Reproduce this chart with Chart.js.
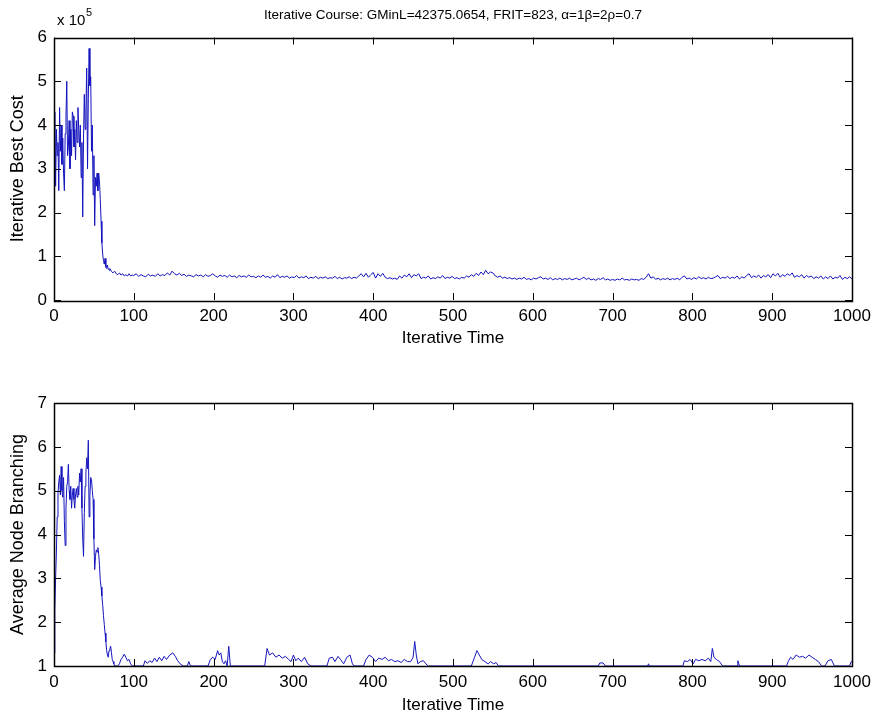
<!DOCTYPE html>
<html>
<head>
<meta charset="utf-8">
<script src="https://cdn.jsdelivr.net/npm/chart.js@4.4.0/dist/chart.umd.min.js"></script>
<style>
html, body { margin: 0; padding: 0; background: #fff; }
#wrap { position: relative; width: 877px; height: 720px; }
canvas { position: absolute; left: 0; }
#chart-cost { top: 0; }
#chart-branch { top: 360px; }
</style>
</head>
<body>
<div id="wrap">
    <canvas id="chart-cost" width="877" height="360"></canvas>
    <canvas id="chart-branch" width="877" height="360"></canvas>
</div>
<script>
// iteration index and best cost (in units of 10^5)
var costIter = [
    0,1,2,3,4,5,6,7,8,9,
    10,11,12,13,14,15,16,17,18,19,
    20,21,22,23,24,25,26,27,28,29,
    30,31,32,33,34,35,36,37,38,39,
    40,41,42,43,44,45,46,47,48,49,
    50,51,52,53,54,55,56,57,58,59,
    60,61,62,63,64,65,66,67,68,69,
    70,72,74,76,78,80,82,84,86,88,
    90,92,94,96,98,
    100,103,106,109,112,115,118,121,124,127,
    130,133,136,139,142,145,148,151,154,157,
    160,163,166,169,172,175,178,181,184,187,
    190,193,196,199,202,205,208,211,214,217,
    220,223,226,229,232,235,238,241,244,247,
    250,253,256,259,262,265,268,271,274,277,
    280,283,286,289,292,295,298,301,304,307,
    310,313,316,319,322,325,328,331,334,337,
    340,343,346,349,352,355,358,361,364,367,
    370,373,376,379,382,385,388,391,394,397,
    400,403,406,409,412,415,418,421,424,427,
    430,433,436,439,442,445,448,451,454,457,
    460,463,466,469,472,475,478,481,484,487,
    490,493,496,499,502,505,508,511,514,517,
    520,523,526,529,532,535,538,541,544,547,
    550,553,556,559,562,565,568,571,574,577,
    580,583,586,589,592,595,598,601,604,607,
    610,613,616,619,622,625,628,631,634,637,
    640,643,646,649,652,655,658,661,664,667,
    670,673,676,679,682,685,688,691,694,697,
    700,703,706,709,712,715,718,721,724,727,
    730,733,736,739,742,745,748,751,754,757,
    760,763,766,769,772,775,778,781,784,787,
    790,793,796,799,802,805,808,811,814,817,
    820,823,826,829,832,835,838,841,844,847,
    850,853,856,859,862,865,868,871,874,877,
    880,883,886,889,892,895,898,901,904,907,
    910,913,916,919,922,925,928,931,934,937,
    940,943,946,949,952,955,958,961,964,967,
    970,973,976,979,982,985,988,991,994,997,
    1000
];
var costValue = [
    3.2,4.3,2.6,3.9,3.3,3.6,2.5,4.4,3.4,4.0,
    3.1,3.7,2.9,2.5,3.8,4.2,5.0,3.3,3.5,4.1,
    3.0,3.9,3.3,4.3,4.2,3.5,3.9,3.2,4.1,3.6,
    4.4,3.9,3.5,4.0,2.8,3.6,1.9,3.7,4.7,3.9,
    4.3,5.3,3.0,4.6,5.75,4.9,5.1,3.4,4.0,2.4,
    3.3,1.7,2.8,2.6,2.9,2.5,2.9,2.7,2.3,1.8,
    1.3,1.05,0.9,0.82,0.95,0.75,0.72,0.8,0.7,0.68,
    0.72,0.65,0.62,0.66,0.6,0.58,0.62,0.57,0.6,0.55,
    0.58,0.55,0.6,0.55,0.57,
    0.56,0.6,0.54,0.58,0.55,0.53,0.59,0.55,0.57,0.54,
    0.6,0.55,0.58,0.56,0.62,0.57,0.66,0.6,0.57,0.61,
    0.56,0.59,0.54,0.57,0.55,0.53,0.58,0.55,0.57,0.53,
    0.58,0.54,0.56,0.6,0.55,0.52,0.57,0.54,0.56,0.52,
    0.57,0.53,0.55,0.51,0.56,0.53,0.55,0.52,0.57,0.53,
    0.54,0.51,0.55,0.52,0.57,0.52,0.54,0.5,0.55,0.52,
    0.58,0.51,0.54,0.52,0.55,0.5,0.53,0.51,0.56,0.5,
    0.53,0.51,0.55,0.49,0.52,0.5,0.54,0.49,0.52,0.5,
    0.53,0.49,0.51,0.5,0.54,0.49,0.52,0.48,0.51,0.5,
    0.53,0.49,0.52,0.5,0.55,0.6,0.53,0.61,0.52,0.58,
    0.63,0.5,0.6,0.54,0.61,0.52,0.49,0.51,0.48,0.5,
    0.47,0.55,0.5,0.57,0.53,0.6,0.51,0.58,0.55,0.6,
    0.49,0.52,0.5,0.55,0.48,0.51,0.49,0.53,0.5,0.56,
    0.49,0.52,0.5,0.54,0.49,0.51,0.48,0.52,0.5,0.55,
    0.52,0.58,0.54,0.61,0.56,0.64,0.58,0.68,0.6,0.64,
    0.62,0.55,0.52,0.55,0.5,0.52,0.49,0.51,0.48,0.5,
    0.47,0.5,0.48,0.52,0.47,0.49,0.46,0.5,0.48,0.51,
    0.53,0.48,0.5,0.47,0.51,0.46,0.49,0.47,0.5,0.46,
    0.49,0.47,0.5,0.46,0.48,0.5,0.46,0.49,0.52,0.47,
    0.5,0.46,0.48,0.45,0.49,0.47,0.51,0.46,0.48,0.45,
    0.47,0.45,0.48,0.46,0.5,0.46,0.47,0.45,0.48,0.46,
    0.47,0.45,0.49,0.47,0.52,0.6,0.5,0.53,0.47,0.5,
    0.46,0.49,0.47,0.5,0.46,0.49,0.47,0.5,0.46,0.52,
    0.55,0.48,0.5,0.47,0.51,0.48,0.53,0.49,0.51,0.48,
    0.52,0.49,0.5,0.53,0.56,0.49,0.52,0.5,0.54,0.49,
    0.52,0.5,0.55,0.48,0.53,0.5,0.56,0.6,0.51,0.55,
    0.52,0.57,0.5,0.56,0.53,0.58,0.51,0.6,0.55,0.61,
    0.52,0.58,0.54,0.6,0.56,0.62,0.52,0.56,0.53,0.58,
    0.5,0.56,0.52,0.55,0.49,0.53,0.5,0.55,0.48,0.53,
    0.49,0.55,0.48,0.52,0.5,0.56,0.47,0.52,0.49,0.53,
    0.48
];

// iteration index and average node branching
var branchIter = [
    0,1,2,3,4,5,6,7,8,9,
    10,11,12,13,14,15,16,17,18,19,
    20,21,22,23,24,25,26,27,28,29,
    30,31,32,33,34,35,36,37,38,39,
    40,41,42,43,44,45,46,47,48,49,
    50,51,52,53,54,55,56,57,58,59,
    60,61,62,63,64,65,66,67,68,69,
    70,71,72,73,74,75,76,78,80,82,
    84,86,88,90,92,94,96,98,112,
    114,117,120,123,126,129,132,135,138,141,
    145,149,152,155,158,162,167,169,171,193,
    196,199,202,205,207,209,211,213,215,217,
    219,221,264,267,270,274,278,282,286,290,
    294,297,300,303,306,310,314,318,322,342,
    345,349,352,356,359,363,367,371,374,376,
    388,391,395,399,403,407,411,415,419,423,
    427,431,435,439,443,447,450,452,454,456,
    459,463,466,469,523,527,530,533,536,540,
    544,547,551,554,557,682,684,688,691,744,
    745,746,788,790,794,797,801,804,808,812,
    816,820,823,825,827,830,834,838,856,857,
    859,918,920,923,926,930,934,938,942,946,
    950,954,958,962,966,970,974,978,997,999,
    1000
];
var branchValue = [
    1.3,2.3,3.0,3.6,4.4,4.95,5.2,5.35,4.9,5.55,
    5.0,4.85,5.3,4.3,3.75,4.6,5.1,5.2,5.6,5.0,
    4.8,5.1,4.6,4.9,5.05,4.8,4.6,4.9,5.05,4.85,
    5.1,4.9,5.4,5.2,5.5,4.6,3.9,3.5,4.5,5.1,
    5.4,5.75,5.5,6.15,4.4,4.9,5.3,5.25,5.0,4.8,
    3.9,3.2,3.5,3.65,3.6,3.7,3.55,3.3,2.95,2.8,
    2.6,2.4,2.15,1.95,1.75,1.55,1.35,1.25,1.2,1.35,
    1.4,1.45,1.3,1.15,1.1,1.05,1.0,1.0,1.0,1.05,
    1.15,1.2,1.27,1.2,1.12,1.15,1.05,1.0,1.0,
    1.12,1.06,1.12,1.08,1.18,1.1,1.2,1.12,1.22,1.15,
    1.25,1.3,1.22,1.12,1.05,1.0,1.0,1.1,1.0,1.0,
    1.15,1.2,1.15,1.35,1.25,1.3,1.1,1.05,1.12,1.0,
    1.45,1.0,1.0,1.4,1.25,1.3,1.2,1.25,1.18,1.22,
    1.15,1.1,1.25,1.12,1.18,1.1,1.2,1.05,1.0,1.0,
    1.18,1.2,1.1,1.22,1.15,1.05,1.2,1.25,1.05,1.0,
    1.0,1.15,1.25,1.2,1.1,1.18,1.15,1.2,1.12,1.15,
    1.1,1.12,1.08,1.15,1.1,1.1,1.2,1.56,1.25,1.05,
    1.1,1.12,1.05,1.0,1.0,1.2,1.35,1.25,1.15,1.1,
    1.05,1.1,1.05,1.08,1.0,1.0,1.07,1.07,1.0,1.0,
    1.05,1.0,1.0,1.12,1.1,1.15,1.05,1.15,1.12,1.15,
    1.12,1.18,1.1,1.4,1.2,1.15,1.1,1.0,1.0,1.12,
    1.0,1.0,1.1,1.2,1.15,1.25,1.2,1.22,1.18,1.25,
    1.2,1.15,1.1,1.0,1.0,1.12,1.15,1.0,1.0,1.1,
    1.1
];

var chartTitle = "Iterative Course: GMinL=42375.0654, FRIT=823, \u03b1=1\u03b2=2\u03c1=0.7";
var fontFamily = "'Liberation Sans', Arial, Helvetica, sans-serif";
var lineColor = "rgb(20, 20, 190)";

function toPoints(xs, ys, factor) {
    var pts = [];
    for (var i = 0; i < xs.length; i++) {
        pts.push({ x: xs[i], y: ys[i] * factor });
    }
    return pts;
}

// box + inward tick marks like a matlab axes
var matlabAxes = {
    id: "matlabAxes",
    afterDatasetsDraw: function (chart, args, opts) {
        var ctx = chart.ctx;
        var a = chart.chartArea;
        var len = 7;
        ctx.save();
        ctx.strokeStyle = "#000";
        ctx.lineWidth = 1;
        ctx.beginPath();
        chart.scales.x.ticks.forEach(function (t) {
            var px = Math.round(chart.scales.x.getPixelForValue(t.value)) + 0.5;
            ctx.moveTo(px, a.bottom); ctx.lineTo(px, a.bottom - len);
            ctx.moveTo(px, a.top); ctx.lineTo(px, a.top + len);
        });
        chart.scales.y.ticks.forEach(function (t) {
            var py = Math.round(chart.scales.y.getPixelForValue(t.value)) + 0.5;
            ctx.moveTo(a.left, py); ctx.lineTo(a.left + len, py);
            ctx.moveTo(a.right, py); ctx.lineTo(a.right - len, py);
        });
        ctx.stroke();
        ctx.lineWidth = 1.5;
        ctx.strokeRect(Math.round(a.left) + 0.5, Math.round(a.top) + 0.5,
            Math.round(a.right - a.left), Math.round(a.bottom - a.top));

        if (opts.title) {
            ctx.fillStyle = "#000";
            ctx.font = "13.5px " + fontFamily;
            ctx.textAlign = "center";
            ctx.textBaseline = "alphabetic";
            ctx.fillText(opts.title, (a.left + a.right) / 2, 19);
        }
        if (opts.exponent) {
            ctx.fillStyle = "#000";
            ctx.textAlign = "left";
            ctx.textBaseline = "alphabetic";
            ctx.font = "15px " + fontFamily;
            ctx.fillText("x 10", 57, 25);
            ctx.font = "11px " + fontFamily;
            ctx.fillText(opts.exponent, 86, 16);
        }
        ctx.restore();
    }
};

function buildChart(canvasId, cfg) {
    var ctx = document.getElementById(canvasId).getContext("2d");
    return new Chart(ctx, {
        type: "line",
        data: {
            datasets: [{
                data: cfg.points,
                borderColor: lineColor,
                borderWidth: 1,
                pointRadius: 0,
                tension: 0,
                fill: false
            }]
        },
        options: {
            responsive: false,
            animation: false,
            parsing: false,
            layout: { padding: { left: 0, right: 25, top: cfg.top, bottom: 0 } },
            plugins: {
                legend: { display: false },
                tooltip: { enabled: false },
                matlabAxes: { title: cfg.title, exponent: cfg.exponent }
            },
            scales: {
                x: {
                    type: "linear",
                    min: 0,
                    max: 1000,
                    grid: { display: false, drawTicks: false },
                    border: { display: false },
                    ticks: {
                        stepSize: 100,
                        color: "#000",
                        padding: 6,
                        maxRotation: 0,
                        font: { family: fontFamily, size: 17 },
                        callback: function (v) { return String(v); }
                    },
                    title: { display: true, text: "Iterative Time", color: "#000", font: { family: fontFamily, size: 17 }, padding: { top: 0, bottom: cfg.xTitlePad } },
                    afterFit: function (s) { s.height = cfg.xHeight; }
                },
                y: {
                    min: cfg.yMin,
                    max: cfg.yMax,
                    grid: { display: false, drawTicks: false },
                    border: { display: false },
                    ticks: {
                        stepSize: cfg.yStep,
                        color: "#000",
                        padding: 7,
                        font: { family: fontFamily, size: 17 },
                        callback: cfg.yLabel
                    },
                    title: { display: true, text: cfg.yTitle, color: "#000", font: { family: fontFamily, size: 18 }, padding: { top: 7, bottom: 0 } },
                    afterFit: function (s) { s.width = 54; }
                }
            }
        },
        plugins: [matlabAxes]
    });
}

buildChart("chart-cost", {
    points: toPoints(costIter, costValue, 1e5),
    top: 37.5,
    xHeight: 60,
    xTitlePad: 11,
    yMin: 0,
    yMax: 6e5,
    yStep: 1e5,
    yLabel: function (v) { return String(Math.round(v / 1e5)); },
    yTitle: "Iterative Best Cost",
    title: chartTitle,
    exponent: "5"
});

buildChart("chart-branch", {
    points: toPoints(branchIter, branchValue, 1),
    top: 43,
    xHeight: 54,
    xTitlePad: 4,
    yMin: 1,
    yMax: 7,
    yStep: 1,
    yLabel: function (v) { return String(v); },
    yTitle: "Average Node Branching",
    title: null,
    exponent: null
});
</script>
</body>
</html>
